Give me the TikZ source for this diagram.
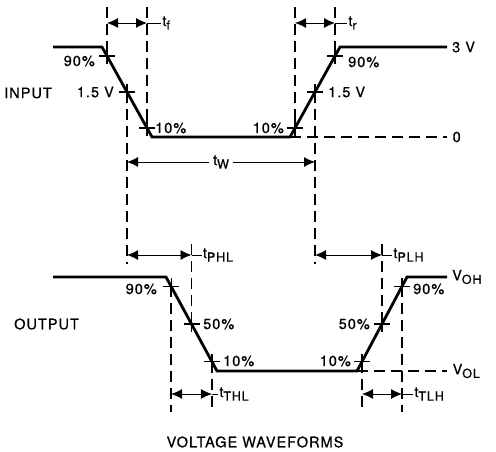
\documentclass[tikz,border=0pt]{standalone}
\usepackage{fontspec}
\setmainfont{TeX Gyre Heros}[LetterSpace=7, FakeBold=0.7]
\usepackage{tikz}
\usetikzlibrary{arrows.meta, positioning, calc}
\newcommand{\lowsub}[1]{\raisebox{-3.5pt}{\fontsize{12.5}{13}\selectfont #1}}

\tikzset{
    wave/.style={line width=2.8pt, line join=miter},
    guide/.style={line width=1.3pt, dash pattern=on 11pt off 6pt},
    tickmark/.style={line width=1.2pt},
    dimline/.style={line width=0.9pt, {Latex[length=11pt,width=10pt]}-{Latex[length=11pt,width=10pt]}},
    lbl/.style={font=\fontsize{14.5}{17}\selectfont, inner sep=1pt}
}

\begin{document}
\begin{tikzpicture}[x=1pt, y=-1pt]
    \useasboundingbox (0,0) rectangle (496,452);
    % input waveform
    \coordinate (ia) at (53,47);
    \coordinate (ib) at (102,47);
    \coordinate (ic) at (152,137);
    \coordinate (id) at (290,137);
    \coordinate (ie) at (340,47);
    \coordinate (if) at (447,47);
    % output waveform
    \coordinate (oa) at (53,277);
    \coordinate (ob) at (166,277);
    \coordinate (oc) at (217,371);
    \coordinate (od) at (357,371);
    \coordinate (oe) at (407,277);
    \coordinate (of) at (447,277);
    % levels for guides and dimensions
    \coordinate (top) at (0,7);
    \coordinate (pbot) at (0,264);
    \coordinate (ptop) at (0,244);
    \coordinate (obot) at (0,412);
    \coordinate (dimf) at (0,23);
    \coordinate (dimw) at (0,162);
    \coordinate (dimp) at (0,255);
    \coordinate (dimt) at (0,394);

    \coordinate (i90f) at ($(ib)!0.1!(ic)$);
    \coordinate (i50f) at ($(ib)!0.5!(ic)$);
    \coordinate (i10f) at ($(ib)!0.9!(ic)$);
    \coordinate (i10r) at ($(id)!0.1!(ie)$);
    \coordinate (i50r) at ($(id)!0.5!(ie)$);
    \coordinate (i90r) at ($(id)!0.9!(ie)$);
    \coordinate (o90f) at ($(ob)!0.1!(oc)$);
    \coordinate (o50f) at ($(ob)!0.5!(oc)$);
    \coordinate (o10f) at ($(ob)!0.9!(oc)$);
    \coordinate (o10r) at ($(od)!0.1!(oe)$);
    \coordinate (o50r) at ($(od)!0.5!(oe)$);
    \coordinate (o90r) at ($(od)!0.9!(oe)$);

    \draw[wave] (ia) -- (ib) -- (ic) -- (id) -- (ie) -- (if);
    \draw[wave] (oa) -- (ob) -- (oc) -- (od) -- (oe) -- (of);

    \foreach \p in {i90f,i50f,i10f,i10r,i50r,i90r,o90f,o50f,o10f,o10r,o50r,o90r}
        \draw[tickmark] ($(\p)+(-8,0)$) -- ++(16,0) ($(\p)+(0,-8)$) -- ++(0,16);

    % guides
    \draw[guide] (id) -- (447,137) node[lbl, right=4pt] {0};
    \draw[guide] (od) -- (447,371) node[lbl, right=4pt] {V\lowsub{OL}};
    \draw[guide] (i90f |- top) -- (i90f);
    \draw[guide] (i10f |- top) -- (i10f);
    \draw[guide] (i10r |- top) -- (i10r);
    \draw[guide] (i90r |- top) -- (i90r);
    \draw[guide] (i50f) -- (i50f |- pbot);
    \draw[guide] (i50r) -- (i50r |- pbot);
    \draw[guide] (o50f |- ptop) -- (o50f);
    \draw[guide] (o50r |- ptop) -- (o50r);
    \draw[guide] (o90f) -- (o90f |- obot);
    \draw[guide] (o10f) -- (o10f |- obot);
    \draw[guide] (o10r) -- (o10r |- obot);
    \draw[guide] (o90r) -- (o90r |- obot);

    % timing dimensions
    \draw[dimline] (i90f |- dimf) -- (i10f |- dimf);
    \draw[line width=0.9pt] (i10f |- dimf) -- ++(14,0) node[lbl, right] {t\lowsub{f}};
    \draw[dimline] (i10r |- dimf) -- (i90r |- dimf);
    \draw[line width=0.9pt] (i90r |- dimf) -- ++(12,0) node[lbl, right] {t\lowsub{r}};
    \draw[dimline] (i50f |- dimw) -- node[lbl, fill=white, inner sep=4pt] {t\lowsub{W}} (i50r |- dimw);
    \draw[dimline] (i50f |- dimp) -- (o50f |- dimp);
    \draw[line width=0.9pt] (o50f |- dimp) -- ++(10,0) node[lbl, right] {t\lowsub{PHL}};
    \draw[dimline] (i50r |- dimp) -- (o50r |- dimp);
    \draw[line width=0.9pt] (o50r |- dimp) -- ++(10,0) node[lbl, right] {t\lowsub{PLH}};
    \draw[dimline] (o90f |- dimt) -- (o10f |- dimt);
    \draw[line width=0.9pt] (o10f |- dimt) -- ++(6,0) node[lbl, right] {t\lowsub{THL}};
    \draw[dimline] (o10r |- dimt) -- (o90r |- dimt);
    \draw[line width=0.9pt] (o90r |- dimt) -- ++(11,0) node[lbl, right] {t\lowsub{TLH}};

    % levels and percentages
    \node[lbl, right=4pt] at (if) {3 V};
    \node[lbl, right=4pt] at (of) {V\lowsub{OH}};
    \node[lbl, anchor=east] (inlbl) at (53,93) {INPUT};
    \node[lbl, anchor=west] (outlbl) at (13,324) {OUTPUT};
    \node[lbl, anchor=east] at (96,61) {90\%};
    \node[lbl, anchor=east] at (115,92) {1.5 V};
    \node[lbl, anchor=west] at (154,128) {10\%};
    \node[lbl, anchor=east] at (285,128) {10\%};
    \node[lbl, anchor=west] at (327,92) {1.5 V};
    \node[lbl, anchor=west] at (347,62) {90\%};
    \node[lbl, anchor=east] at (158,289) {90\%};
    \node[lbl, anchor=west] at (202,324) {50\%};
    \node[lbl, anchor=west] at (222,361) {10\%};
    \node[lbl, anchor=east] at (352,361) {10\%};
    \node[lbl, anchor=east] at (371,324) {50\%};
    \node[lbl, anchor=west] at (412,289) {90\%};
    \node[lbl] (title) at (255,442) {VOLTAGE WAVEFORMS};
\end{tikzpicture}
\end{document}
